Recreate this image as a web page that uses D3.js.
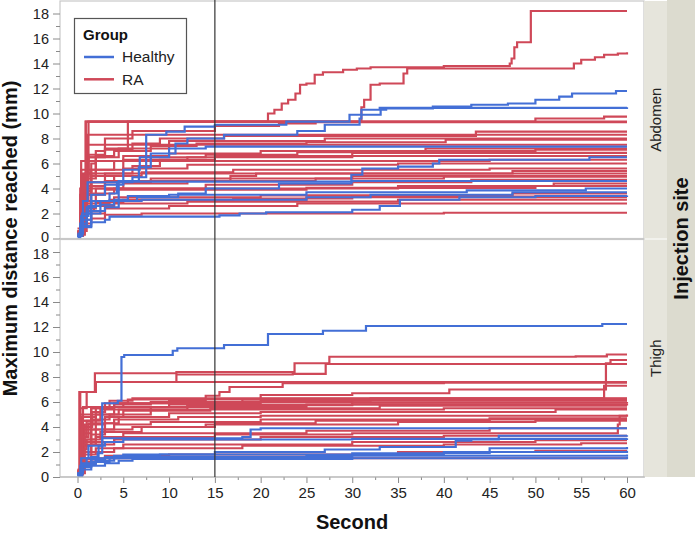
<!DOCTYPE html>
<html>
<head>
<meta charset="utf-8">
<script src="https://cdn.jsdelivr.net/npm/d3@7"></script>
<style>
  body { margin: 0; background: #fff; }
  svg text { font-family: "Liberation Sans", Arial, sans-serif; }
</style>
</head>
<body>
<div id="my_plot"></div>
<script>
// Sizing
const svgWidth = 695, svgHeight = 533;
const plotLeft = 60, plotRight = 644;
const panelTops = [1, 239.5], panelBottoms = [238.5, 477];
const stripWidth = 23;
const lineWidth = 2.2;

// Colouring
const healthyColor = "#436fd6";
const raColor = "#cf4858";
const frameColor = "#c8c8c8";
const tickColor = "#8a8a8a";
const textColor = "#222";

// Content
const groups = ["Healthy", "RA"];
const sites = ["Abdomen", "Thigh"];
const xTicks = [0, 5, 10, 15, 20, 25, 30, 35, 40, 45, 50, 55, 60];
const xMinorTicks = [2.5, 7.5, 12.5, 17.5, 22.5, 27.5, 32.5, 37.5, 42.5, 47.5, 52.5, 57.5];
const yTicks = [0, 2, 4, 6, 8, 10, 12, 14, 16, 18];
const yMinorTicks = [1, 3, 5, 7, 9, 11, 13, 15, 17];
const refSecond = 15;
const xTitle = "Second";
const yTitle = "Maximum distance reached (mm)";
const facetTitle = "Injection site";
const legendHeading = "Group";

// each series: [second, max distance] breakpoints, drawn as steps
const abdomenHealthy = [
  [[0,0.2],[0.3,1],[1,2.5],[2,3],[3.5,3.6],[4.3,4.5],[6,4.9],[7.5,8.3],[9.7,8.55],[11.7,8.95],[15,9.1],[22.8,9.35],[29.7,9.9],[33.1,10.3],[33.7,10.4],[38.8,10.55],[43,10.7],[47,10.8],[50,11.1],[52.6,11.35],[54,11.6],[58.8,11.8],[60,11.8]],
  [[0,0.3],[0.5,1.5],[1.5,3],[4.5,4.6],[6.7,5.7],[8,6.8],[10.7,7.6],[12,8.0],[16,8.3],[24,8.6],[27,9.1],[30.8,9.6],[31,10.3],[33,10.45],[60,10.5]],
  [[0,0.3],[0.5,2],[1.5,3.5],[3,4.3],[5,5.5],[6.8,6.5],[10,7.2],[14,7.35],[60,7.35]],
  [[0,0.2],[0.5,1],[1.5,2.2],[3,2.5],[4.5,3],[6.5,3.3],[11,3.6],[14,4.0],[22,4.4],[29.9,5.1],[31.1,5.6],[35,5.75],[38.8,6.0],[39.5,6.3],[55.9,6.5],[60,6.5]],
  [[0,0.1],[0.3,1.2],[1,2],[2.5,2.7],[4,3.1],[5.5,3.4],[10,3.5],[25,3.7],[42.5,3.85],[55.5,4.0],[60,4.0]],
  [[0,0.2],[0.4,1.8],[1.2,2.6],[2.5,3.0],[7,3.1],[25,3.3],[32,3.5],[47.5,3.7],[60,3.7]],
  [[0,0.2],[0.5,0.9],[1.5,1.3],[3,1.5],[3.5,1.75],[15.5,1.85],[17.7,2.0],[20.6,2.1],[30,2.3],[33,2.6],[35.2,3.1],[41.7,3.3],[50,3.4],[60,3.45]],
  [[0,0.4],[0.6,3],[1.1,4.5],[5,4.55],[30,4.6],[60,4.6]]
];

const abdomenRA = [
  [[0,0.4],[0.4,4.5],[0.9,9.35],[20.8,10.0],[21.5,10.3],[22.3,10.8],[23,11.1],[23.8,11.6],[24.3,12.3],[25,12.4],[25.9,13.1],[26.8,13.3],[29,13.5],[30.5,13.6],[32,13.7],[40,13.8],[47.2,14.0],[47.4,14.4],[47.7,15.3],[48,15.7],[49.5,18.2],[60,18.2]],
  [[0,0.3],[0.5,3],[1,6.5],[3,7.2],[5.5,9.35],[31,10.5],[31.3,11.1],[32,12.3],[33,12.4],[35.6,13.2],[36,13.6],[54.2,14.0],[55,14.3],[56.5,14.5],[57.5,14.7],[59,14.8],[60,14.9]],
  [[0,0.5],[0.6,5],[1.2,9.35],[50,9.6],[57.5,9.75],[60,9.75]],
  [[0,0.8],[0.9,9.35],[60,9.35]],
  [[0,0.6],[0.5,4],[1.5,6],[2,7],[3,8.0],[6,8.6],[15,9.0],[22,9.2],[26,9.3],[60,9.3]],
  [[0,0.4],[0.5,3],[1.2,6.7],[3,7.1],[6,7.6],[9,8.0],[16,8.2],[43.5,8.55],[60,8.55]],
  [[0,0.3],[0.8,4],[1.1,8.3],[60,8.3]],
  [[0,0.5],[0.4,5.5],[2,6.6],[4,7.0],[8,7.4],[13,7.6],[25,7.7],[40.2,7.9],[60,7.9]],
  [[0,0.2],[0.5,4.5],[1,7.5],[60,7.5]],
  [[0,0.6],[0.6,5.2],[2,6.2],[5,6.6],[10,6.8],[20,7.0],[38,7.2],[60,7.2]],
  [[0,0.3],[0.3,3.5],[1.5,5.5],[4,6.2],[8,6.5],[14,6.7],[24,6.9],[36,7.0],[50,7.1],[60,7.1]],
  [[0,0.4],[0.7,4.8],[2,5.5],[5,6.3],[15,6.6],[30,6.85],[60,6.85]],
  [[0,0.5],[0.4,6.2],[45,6.3],[60,6.3]],
  [[0,0.3],[0.5,2.8],[1.5,4.2],[3,5.2],[6,5.8],[9,6.3],[12,6.5],[30,6.6],[60,6.6]],
  [[0,0.2],[0.6,3.5],[1.5,4.5],[4,5.0],[7,5.3],[17,5.5],[45,5.6],[60,5.6]],
  [[0,0.5],[0.8,5.2],[47.5,5.4],[60,5.4]],
  [[0,0.3],[0.4,3.0],[2,4.0],[5,4.4],[12,4.6],[16.7,5.0],[19.5,5.2],[60,5.2]],
  [[0,0.4],[0.5,4.2],[3,4.6],[26,4.8],[40,4.95],[60,4.95]],
  [[0,0.6],[1,3.6],[4,4.0],[14,4.3],[30,4.5],[43,4.7],[60,4.7]],
  [[0,0.3],[0.3,4.0],[35,4.2],[52,4.4],[60,4.4]],
  [[0,0.2],[0.5,2.5],[1.5,3.0],[4,3.3],[20,3.45],[47.5,3.6],[60,3.6]],
  [[0,0.4],[0.6,2.4],[2,2.9],[5,3.1],[17,3.2],[30,3.35],[60,3.35]],
  [[0,0.5],[0.5,2.2],[1.8,2.6],[4,2.8],[12,2.95],[35,3.1],[60,3.1]],
  [[0,0.3],[0.5,1.2],[1.5,1.6],[3,1.9],[7,2.0],[40,2.06],[60,2.06]],
  [[0,0.4],[0.4,4.5],[8,4.8],[30,5.0],[60,5.0]],
  [[0,0.2],[0.3,2.0],[1,2.8],[3.5,3.1],[25,3.3],[60,3.3]],
  [[0,0.5],[0.6,5.0],[1.2,6.5],[4.5,7.2],[10,7.8],[27,8.0],[60,8.0]],
  [[0,0.3],[0.5,3.8],[1.5,5.0],[5,5.6],[12,5.9],[35,6.0],[60,6.0]],
  [[0,0.3],[0.4,1.5],[1.5,2.0],[3,2.4],[10,2.6],[24,2.8],[60,2.8]],
  [[0,0.5],[0.5,2.2],[1,3.5],[3,3.9],[25,4.05],[50,4.2],[60,4.2]]
];

const thighHealthy = [
  [[0,0.2],[0.3,0.9],[1,1.5],[2.2,1.9],[2.7,5.9],[4.4,6.1],[4.8,9.6],[5.1,9.76],[10.4,10.1],[10.9,10.3],[16,10.56],[20.8,11.44],[26.8,11.7],[31.5,12.08],[57.3,12.24],[60,12.24]],
  [[0,0.3],[0.5,1.0],[1.5,1.6],[2.3,2.5],[2.7,3.1],[18,3.2],[18.9,3.8],[20,3.9],[60,3.9]],
  [[0,0.2],[0.4,0.9],[1.5,1.4],[3,1.6],[5,1.8],[15,2.0],[27,2.2],[33,2.4],[41.3,2.9],[43,3.0],[46,3.3],[60,3.35]],
  [[0,0.3],[0.6,1.1],[2,1.5],[4,1.7],[9,1.8],[40,2.0],[60,2.1]],
  [[0,0.1],[0.5,0.8],[1.5,1.2],[3.5,1.5],[6,1.6],[25,1.7],[60,1.8]],
  [[0,0.3],[0.4,1.5],[1.2,2.5],[3,2.8],[5,3.0],[30,3.05],[60,3.1]],
  [[0,0.2],[0.5,1.0],[2,1.3],[4,1.5],[4.5,1.6],[30,1.9],[45,2.3],[60,2.4]],
  [[0,0.15],[0.5,0.6],[1.5,0.9],[3,1.1],[4.5,1.3],[6,1.45],[30,1.5],[60,1.6]]
];

const thighRA = [
  [[0,0.3],[0.2,6.8],[1.9,8.3],[10.8,8.4],[23.7,9.1],[27.5,9.62],[54.4,9.65],[57.8,9.8],[60,9.8]],
  [[0,0.4],[0.3,5.5],[1,6.8],[2,7.6],[10.8,8.2],[23.5,8.25],[27.1,9.04],[60,9.04]],
  [[0,0.3],[0.5,3.5],[1.5,5.2],[3,5.6],[12,5.9],[20,6.1],[32,6.3],[57.5,7.0],[57.7,9.1],[58.2,9.36],[60,9.36]],
  [[0,0.5],[0.4,4.5],[1.5,5.5],[4,5.9],[10,6.1],[14,6.5],[15.5,6.8],[16.6,7.2],[22.4,7.5],[40,7.55],[60,7.55]],
  [[0,0.4],[0.5,4.8],[2,5.6],[5,5.9],[18,6.2],[20,6.56],[30,6.7],[40.6,7.0],[57.5,7.3],[60,7.3]],
  [[0,0.3],[0.3,4.5],[1.5,5.5],[3.5,6.1],[6,6.3],[60,6.3]],
  [[0,0.5],[0.5,3.8],[2,5.0],[4,5.8],[8,6.0],[30,6.1],[60,6.1]],
  [[0,0.4],[0.6,5.6],[10,5.8],[30,5.95],[60,6.0]],
  [[0,0.2],[0.4,3.2],[1,4.5],[2.5,5.0],[4.5,5.4],[12,5.6],[25,5.8],[60,5.85]],
  [[0,0.3],[0.8,4.2],[3,4.8],[5,5.3],[14.5,5.5],[33,5.7],[60,5.7]],
  [[0,0.6],[0.3,5.0],[2.5,5.4],[40,5.5],[60,5.5]],
  [[0,0.4],[0.5,2.8],[1.5,3.8],[3,4.3],[4.5,4.8],[10,5.1],[20,5.2],[52.2,5.4],[60,5.4]],
  [[0,0.3],[0.4,4.0],[1.6,5.2],[3,5.9],[5.5,6.2],[20,6.25],[60,6.25]],
  [[0,0.4],[0.5,3.0],[2,3.8],[4,4.2],[8,4.4],[20,4.6],[45,4.7],[60,4.7]],
  [[0,0.5],[0.5,2.5],[1.5,3.4],[3,3.8],[6,4.0],[14,4.2],[35,4.4],[50,4.5],[60,4.5]],
  [[0,0.3],[0.5,2.0],[1.5,2.8],[4,3.2],[15,3.4],[30,3.5],[59,4.2],[59.2,4.9],[60,4.9]],
  [[0,0.4],[0.5,2.6],[2,3.2],[5,3.5],[25,3.7],[45,3.9],[60,3.9]],
  [[0,0.3],[0.4,2.0],[1.5,2.6],[4,3.0],[20,3.2],[40,3.3],[60,3.3]],
  [[0,0.2],[0.6,1.8],[2,2.3],[5,2.6],[30,2.8],[50,2.95],[60,2.95]],
  [[0,0.5],[0.5,1.5],[1.5,2.0],[4,2.3],[18,2.5],[40,2.6],[55,2.7],[60,2.7]],
  [[0,0.3],[0.4,1.2],[1.5,1.5],[60,1.5]],
  [[0,0.4],[0.6,1.4],[3,1.7],[10,1.8],[35,2.0],[50,2.1],[60,2.1]],
  [[0,0.3],[0.3,6.8],[2,7.6],[60,7.6]],
  [[0,0.5],[0.5,4.0],[1.5,4.6],[3.5,5.0],[8,5.6],[12,5.75],[30,5.8],[60,5.8]],
  [[0,0.3],[0.4,2.2],[1,3.0],[2.5,3.6],[7,4.0],[15,4.3],[26,4.5],[45,4.6],[60,4.6]],
  [[0,0.4],[0.3,3.2],[1.2,4.3],[4,4.6],[11,4.8],[20,4.9],[60,5.0]]
];


/** Create SVG */
var svg = d3.select("#my_plot")
  .append("svg")
  .attr("width", svgWidth)
  .attr("height", svgHeight);

/** X scale, shared by both panels */
var x = d3.scaleLinear()
  .domain([0, 60])
  .range([77.5, 627]);

var panels = [
  { site: sites[0], healthy: abdomenHealthy, ra: abdomenRA },
  { site: sites[1], healthy: thighHealthy, ra: thighRA }
];

panels.forEach((p, i) => {
  var top = panelTops[i], bottom = panelBottoms[i];
  var y = d3.scaleLinear()
    .domain([0, 19])
    .range([bottom, top]);

  // frame
  svg.append("rect")
    .attr("x", plotLeft)
    .attr("y", top)
    .attr("width", plotRight - plotLeft)
    .attr("height", bottom - top)
    .attr("fill", "#fff")
    .attr("stroke", frameColor)
    .attr("stroke-width", 1.2);

  svg.append("clipPath").attr("id", "clip" + i)
    .append("rect")
    .attr("x", plotLeft)
    .attr("y", top)
    .attr("width", plotRight - plotLeft)
    .attr("height", bottom - top);

  var line = d3.line()
    .x((d) => x(d[0]))
    .y((d) => y(d[1]))
    .curve(d3.curveStepAfter);

  var g = svg.append("g").attr("clip-path", "url(#clip" + i + ")");
  g.selectAll(".ra")
    .data(p.ra)
    .enter().append("path")
    .attr("class", "ra")
    .attr("d", line)
    .attr("fill", "none")
    .attr("stroke", raColor)
    .attr("stroke-width", lineWidth);
  g.selectAll(".healthy")
    .data(p.healthy)
    .enter().append("path")
    .attr("class", "healthy")
    .attr("d", line)
    .attr("fill", "none")
    .attr("stroke", healthyColor)
    .attr("stroke-width", lineWidth);

  // y axis, major + minor ticks
  var yAxis = svg.append("g").classed("axis", true)
    .attr("transform", "translate(" + plotLeft + ",0)")
    .call(d3.axisLeft(y).tickValues(yTicks).tickSize(7).tickPadding(4));
  yAxis.selectAll("text").style("font-size", "14.5px");
  // keep the stacked 0 / 18 labels of the two panels apart
  if (i === 0) yAxis.selectAll("text").filter((d) => d === 0).attr("y", -1.5);
  if (i === 1) yAxis.selectAll("text").filter((d) => d === 18).attr("y", 1.5);
  svg.append("g").classed("axis", true)
    .attr("transform", "translate(" + plotLeft + ",0)")
    .call(d3.axisLeft(y).tickValues(yMinorTicks).tickSize(4).tickFormat(""));

  // facet strip
  svg.append("rect")
    .attr("x", plotRight)
    .attr("y", top)
    .attr("width", stripWidth)
    .attr("height", bottom - top)
    .attr("fill", "#e6e5dc");
  svg.append("text")
    .attr("transform", "translate(" + (plotRight + stripWidth / 2 + 0.5) + "," + (top + bottom) / 2 + ") rotate(-90)")
    .attr("text-anchor", "middle")
    .attr("dy", "0.35em")
    .style("font-size", "15px")
    .attr("fill", textColor)
    .text(p.site);
});

// outer strip
svg.append("rect")
  .attr("x", plotRight + stripWidth)
  .attr("y", 0)
  .attr("width", svgWidth - plotRight - stripWidth)
  .attr("height", panelBottoms[1])
  .attr("fill", "#dcdbcf");
svg.append("text")
  .attr("transform", "translate(" + (plotRight + stripWidth + 14) + "," + (panelBottoms[1] / 2) + ") rotate(-90)")
  .attr("text-anchor", "middle")
  .attr("dy", "0.36em")
  .style("font-size", "20px")
  .style("font-weight", "bold")
  .attr("fill", "#111")
  .text(facetTitle);

/** X axis */
svg.append("g").classed("axis", true)
  .attr("transform", "translate(0," + panelBottoms[1] + ")")
  .call(d3.axisBottom(x).tickValues(xTicks).tickSize(6).tickPadding(4))
  .selectAll("text").style("font-size", "15px");
svg.append("g").classed("axis", true)
  .attr("transform", "translate(0," + panelBottoms[1] + ")")
  .call(d3.axisBottom(x).tickValues(xMinorTicks).tickSize(3).tickFormat(""));

//styling
svg.selectAll(".axis").select("path").remove();
svg.selectAll(".axis").selectAll("line").style("stroke", tickColor);
svg.selectAll(".axis").selectAll("text").style("fill", textColor);
svg.append("line")
  .attr("x1", plotLeft).attr("x2", plotRight + 1)
  .attr("y1", panelBottoms[1]).attr("y2", panelBottoms[1])
  .attr("stroke", "#b5b5b5");

/** reference line at 15 s */
svg.append("line")
  .attr("x1", x(refSecond)).attr("x2", x(refSecond))
  .attr("y1", 0).attr("y2", panelBottoms[1])
  .attr("stroke", "#333")
  .attr("stroke-width", 1.2);

/** titles */
svg.append("text")
  .attr("x", (plotLeft + plotRight) / 2)
  .attr("y", 529)
  .attr("text-anchor", "middle")
  .style("font-size", "20px")
  .style("font-weight", "bold")
  .attr("fill", "#111")
  .text(xTitle);

svg.append("text")
  .attr("transform", "translate(17," + panelBottoms[0] + ") rotate(-90)")
  .attr("text-anchor", "middle")
  .style("font-size", "20px")
  .style("font-weight", "bold")
  .attr("fill", "#111")
  .text(yTitle);

/** legend */
var legend = svg.append("g").classed("legend", true);
legend.append("rect")
  .attr("x", 74.5).attr("y", 18.5)
  .attr("width", 112).attr("height", 75)
  .attr("fill", "#fff")
  .attr("stroke", "#555")
  .attr("stroke-width", 1.2);
legend.append("text")
  .attr("x", 83).attr("y", 39.5)
  .style("font-size", "15px")
  .style("font-weight", "bold")
  .attr("fill", "#111")
  .text(legendHeading);

var item = legend.selectAll(".item")
  .data(groups)
  .enter().append("g")
  .attr("class", "item")
  .attr("transform", (d, i) => "translate(0," + (57 + i * 22.3) + ")");
item.append("line")
  .attr("x1", 84).attr("x2", 114)
  .attr("stroke", (d, i) => i === 0 ? healthyColor : raColor)
  .attr("stroke-width", 2.5);
item.append("text")
  .attr("x", 122)
  .attr("dy", "0.35em")
  .style("font-size", "15.5px")
  .attr("fill", textColor)
  .text((d) => d);
</script>
</body>
</html>
